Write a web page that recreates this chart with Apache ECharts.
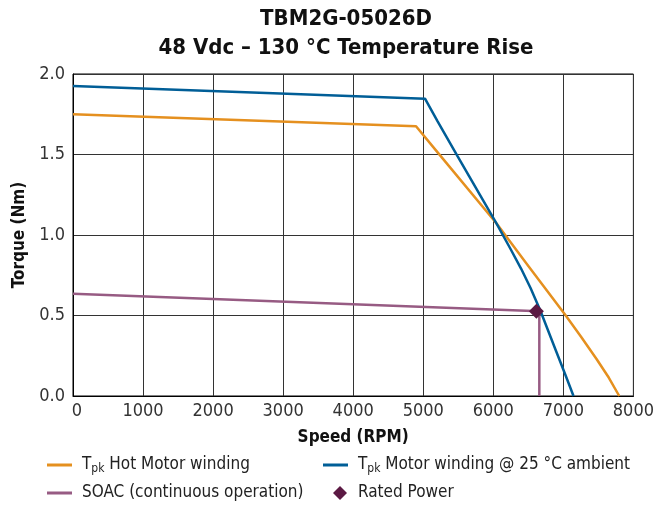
<!DOCTYPE html>
<html>
<head>
<meta charset="utf-8">
<script src="https://cdn.jsdelivr.net/npm/echarts@6/dist/echarts.min.js"></script>
<style>
html,body{margin:0;padding:0;background:#fff;}
#chart{width:657px;height:508px;}
</style>
</head>
<body>
<div id="chart"></div>
<script>
// ---- data ----
const titleLines = ['TBM2G-05026D', '48 Vdc \u2013 130 \u00b0C Temperature Rise'];
const xAxisName = 'Speed (RPM)';
const yAxisName = 'Torque (Nm)';
const xTicks = [0, 1000, 2000, 3000, 4000, 5000, 6000, 7000, 8000];
const yTicks = [0.0, 0.5, 1.0, 1.5, 2.0];
const seriesNames = ['Tpk Hot Motor winding', 'Tpk Motor winding @ 25 \u00b0C ambient', 'SOAC (continuous operation)', 'Rated Power'];
// Tpk hot motor winding [speed, torque]
const hotSpeed  = [0, 4897, 5205, 6047, 6500, 7026, 7250, 7476, 7650, 7798];
const hotTorque = [1.75, 1.675, 1.513, 1.071, 0.808, 0.504, 0.37, 0.228, 0.113, 0.0];
// Tpk motor winding @ 25 C ambient
const ambSpeed  = [0, 5025, 5205, 5489, 6047, 6250, 6398, 6530, 6671, 6900, 7030, 7145];
const ambTorque = [1.926, 1.847, 1.706, 1.49, 1.071, 0.91, 0.79, 0.672, 0.531, 0.275, 0.13, 0.0];
// SOAC continuous operation
const soacSpeed  = [0, 6657, 6657];
const soacTorque = [0.635, 0.527, 0.0];
// Rated power point
const ratedSpeed  = [6615];
const ratedTorque = [0.527];

const zip = (a, b) => a.map((v, i) => [v, b[i]]);

const C_ORANGE = '#E5901F';
const C_BLUE = '#005E97';
const C_PURPLE = '#975B83';
const C_DIAMOND = '#5B1943';
const FONT = '"Liberation Sans Narrow", "DejaVu Sans Condensed", "Roboto", sans-serif';

const richSub = {
  sub: { fontSize: 12, fontFamily: FONT, color: '#222', verticalAlign: 'bottom', lineHeight: 20 },
  n: { fontSize: 17, fontFamily: FONT, color: '#222', lineHeight: 20 }
};
function legendFmt(name) {
  if (name.startsWith('Tpk')) return '{n|T}{sub|pk}{n|' + name.slice(3) + '}';
  return '{n|' + name + '}';
}
const LINE_ICON = 'path://M0,0 L25,0 L25,3 L0,3 Z';
const DIAMOND_ICON = 'path://M7,0 L14,7 L7,14 L0,7 Z';
function mkLegend(name, icon, left, top, w, pad) {
  return {
    left: left, top: top, padding: 0, orient: 'horizontal',
    itemWidth: w, itemHeight: 14,
    formatter: legendFmt,
    textStyle: { rich: richSub, fontFamily: FONT, fontSize: 17, lineHeight: 20, color: '#222', padding: [0, 0, 0, pad] },
    data: [{ name: name, icon: icon }]
  };
}

const chart = echarts.init(document.getElementById('chart'), null, { renderer: 'canvas' });
const option = {
  backgroundColor: '#fff',
  animation: false,
  title: {
    text: titleLines.join('\n'),
    left: 341,
    textAlign: 'center',
    top: 0,
    textStyle: { fontFamily: FONT, fontWeight: 'bold', fontSize: 22, lineHeight: 29, color: '#111' }
  },
  grid: {
    left: 73, right: 20, top: 74, bottom: 112,
    show: true, borderColor: '#000', borderWidth: 1, containLabel: false
  },
  legend: [
    mkLegend(seriesNames[0], LINE_ICON, 47, 455, 25, 5),
    mkLegend(seriesNames[2], LINE_ICON, 47, 483, 25, 5),
    mkLegend(seriesNames[1], LINE_ICON, 323, 455, 25, 5),
    mkLegend(seriesNames[3], DIAMOND_ICON, 333, 483, 14, 6)
  ],
  xAxis: {
    type: 'value', min: xTicks[0], max: xTicks[xTicks.length - 1], interval: 1000,
    name: xAxisName, nameLocation: 'middle', nameGap: 33,
    nameTextStyle: { fontFamily: FONT, fontWeight: 'bold', fontSize: 17, color: '#111' },
    axisLine: { show: true, lineStyle: { color: '#000', width: 1 } },
    axisTick: { show: false },
    splitLine: { show: true, lineStyle: { color: '#333', width: 1 } },
    axisLabel: {
      margin: 6, fontFamily: FONT, fontSize: 18, color: '#333',
      formatter: v => v === 0 ? '{z|0}' : String(v),
      rich: { z: { fontFamily: FONT, fontSize: 18, color: '#333', padding: [0, 0, 0, 8] } }
    }
  },
  yAxis: {
    type: 'value', min: yTicks[0], max: yTicks[yTicks.length - 1], interval: 0.5,
    name: yAxisName, nameLocation: 'middle', nameGap: 44, nameRotate: 90,
    nameTextStyle: { fontFamily: FONT, fontWeight: 'bold', fontSize: 17, color: '#111' },
    axisLine: { show: true, lineStyle: { color: '#000', width: 1 } },
    axisTick: { show: false },
    splitLine: { show: true, lineStyle: { color: '#333', width: 1 } },
    axisLabel: {
      margin: 8, fontFamily: FONT, fontSize: 18, color: '#333',
      formatter: v => v.toFixed(1)
    }
  },
  series: [
    {
      name: seriesNames[0], type: 'line', data: zip(hotSpeed, hotTorque),
      showSymbol: false, symbol: 'none', lineStyle: { color: C_ORANGE, width: 2.5 },
      itemStyle: { color: C_ORANGE }, z: 3
    },
    {
      name: seriesNames[1], type: 'line', data: zip(ambSpeed, ambTorque),
      showSymbol: false, symbol: 'none', lineStyle: { color: C_BLUE, width: 2.5 },
      itemStyle: { color: C_BLUE }, z: 4
    },
    {
      name: seriesNames[2], type: 'line', data: zip(soacSpeed, soacTorque),
      showSymbol: false, symbol: 'none', lineStyle: { color: C_PURPLE, width: 2.5 },
      itemStyle: { color: C_PURPLE }, z: 2
    },
    {
      name: seriesNames[3], type: 'scatter', data: zip(ratedSpeed, ratedTorque),
      symbol: 'diamond', symbolSize: 15, itemStyle: { color: C_DIAMOND, opacity: 1 }, z: 5
    }
  ]
};
chart.setOption(option);
</script>
</body>
</html>
